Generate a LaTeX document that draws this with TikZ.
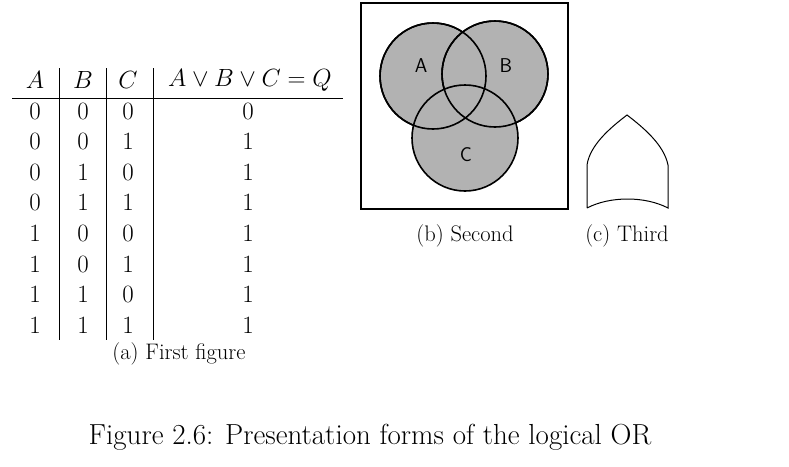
\documentclass[tikz,border=0pt]{standalone}
\usepackage{amsmath}
\begin{document}
\begin{tikzpicture}[x=1pt,y=-1pt,font=\fontsize{25}{29}\selectfont,
  subcap/.style={font=\fontsize{22.5}{26}\selectfont},
  set/.style={draw,line width=1.6pt,fill=gray!60}]
\useasboundingbox (0,0) rectangle (789,466);

% table
\draw (12,98) -- (343,98);
\draw (59,68) -- (59,340);
\draw (106,68) -- (106,340);
\draw (153,68) -- (153,340);
\node (hA) at (35,80) {$A$};
\node (hB) at (83,80) {$B$};
\node (hC) at (128,80) {$C$};
\node (hQ) at (250,80) {$A\vee B\vee C=Q$};
\foreach \a/\b/\c/\q [count=\i from 0] in {0/0/0/0,0/0/1/1,0/1/0/1,0/1/1/1,1/0/0/1,1/0/1/1,1/1/0/1,1/1/1/1}{
  \node (ra\i) at (35,111+30.6*\i) {$\a$};
  \node (rb\i) at (83,111+30.6*\i) {$\b$};
  \node (rc\i) at (128,111+30.6*\i) {$\c$};
  \node (rq\i) at (248,111+30.6*\i) {$\q$};
}
\node[subcap] (capa) at (179,354) {(a) First figure};

% venn
\draw[line width=2.4pt] (361,3) rectangle (568,209);
\draw[set] (433,76) circle (53);
\draw[set] (495,74) circle (53);
\draw[set] (465,138) circle (53);
\draw[line width=1.6pt] (433,76) circle (53);
\draw[line width=1.6pt] (495,74) circle (53);
\node[font=\sffamily\fontsize{20}{24}\selectfont] (lA) at (421,66) {A};
\node[font=\sffamily\fontsize{20}{24}\selectfont] (lB) at (506,66) {B};
\node[font=\sffamily\fontsize{20}{24}\selectfont] (lC) at (466,155) {C};
\node[subcap] (capb) at (465,236) {(b) Second};

% gate
\draw[line width=1pt] (587,208) -- (587,165) .. controls (590,145) and (610,128) .. (627,115)
  .. controls (644,128) and (664,145) .. (668,165) -- (668,208)
  .. controls (645,196) and (610,196) .. (587,208);
\node[subcap] (capc) at (627,236) {(c) Third};

\node[font=\fontsize{29}{34}\selectfont] (fig) at (370,437) {Figure 2.6: Presentation forms of the logical OR};
\end{tikzpicture}
\end{document}
